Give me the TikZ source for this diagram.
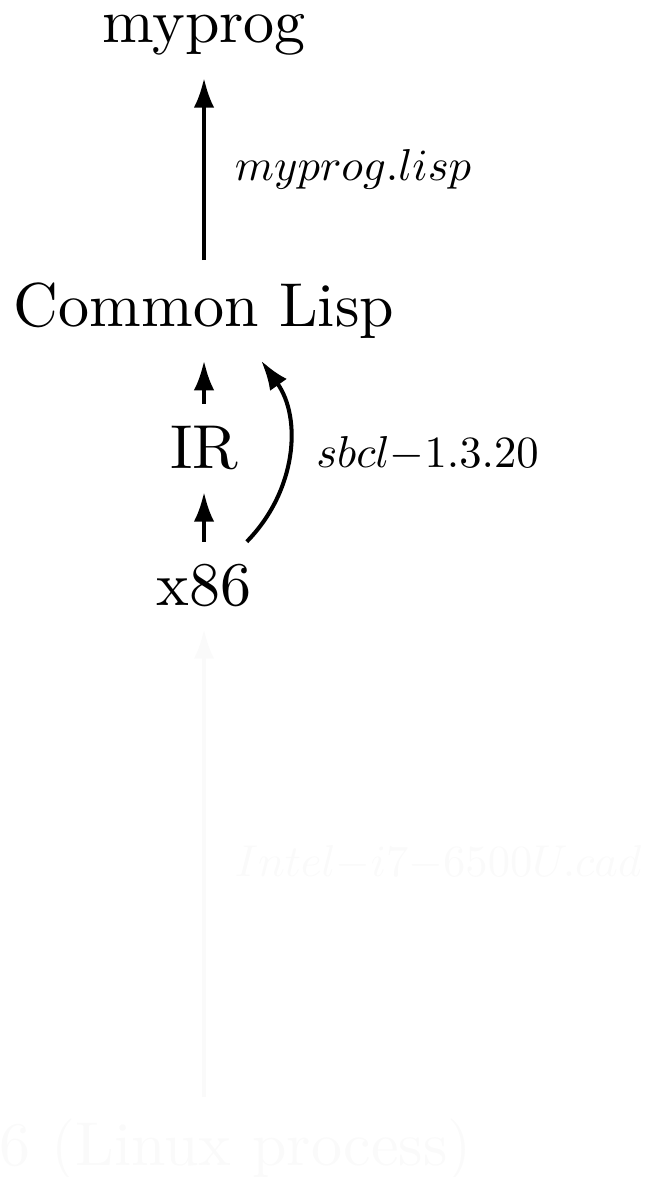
\documentclass[tikz,border=0pt]{standalone}
\usetikzlibrary{arrows.meta}
\begin{document}
\begin{tikzpicture}[x=1pt,y=1pt,
    lang/.style={inner sep=3.4pt,anchor=base},
    conv/.style={-{Latex[length=4.8pt,width=3.3pt]},line width=0.65pt},
    lbl/.style={inner sep=0pt,scale=0.72},
    faint/.style={color=black!2},
  ]
  \useasboundingbox (0,0) rectangle (105,-189.8);

  % Languages
  \node[lang] (myprog) at (32.9,-6.9)  {myprog};
  \node[lang] (cl)     at (32.9,-52.6) {Common Lisp};
  \node[lang] (ir)     at (32.9,-75.5) {IR};
  \node[lang] (x86)    at (32.9,-97.6) {x86};
  \node[lang,faint] (proc) at (32.9,-188) {x86 (Linux process)};

  % Compilers
  \draw[conv] (cl) -- (myprog)
    node[lbl,midway,right=6.6pt] {$myprog.lisp$};
  \draw[conv] (ir) -- (cl);
  \draw[conv] (x86) -- (ir);
  \draw[conv] ([xshift=6.9pt]x86.north) to[bend right=40]
    node[lbl,midway,right=6pt] {$sbcl{-}1.3.20$}
    ([xshift=9.2pt]cl.south);

  % Machine (faded)
  \draw[conv,faint] (proc) -- (x86)
    node[lbl,midway,right=6.6pt] {$Intel{-}i7{-}6500U.cad$};

\end{tikzpicture}
\end{document}
